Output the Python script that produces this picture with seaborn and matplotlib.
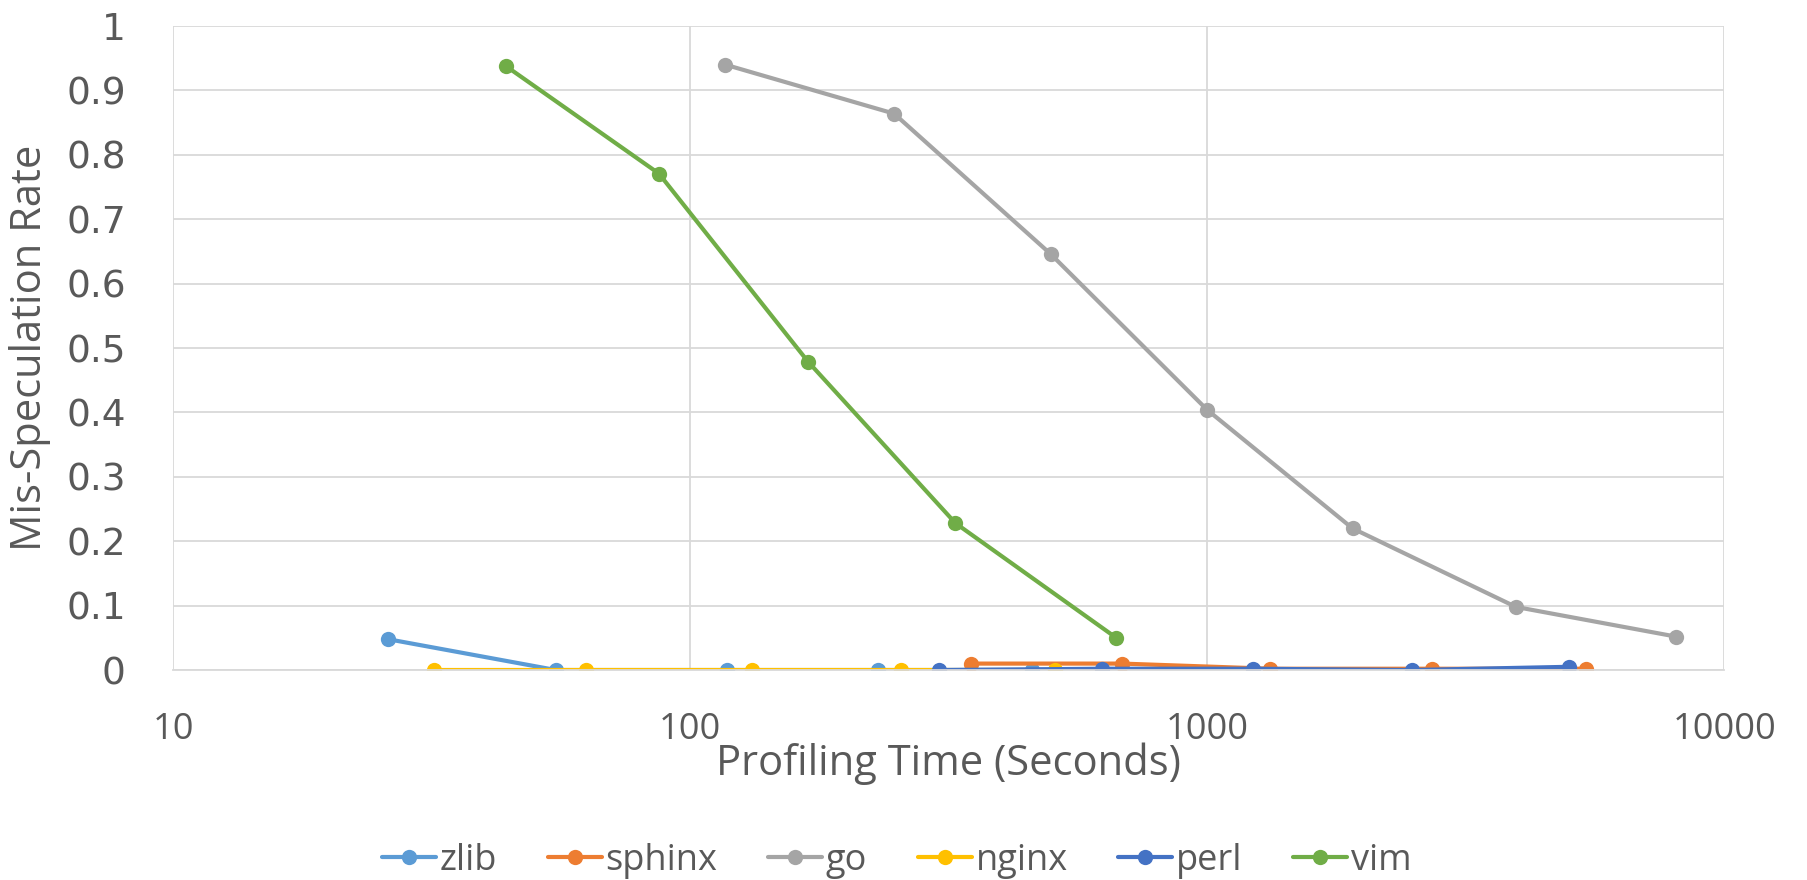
import matplotlib
matplotlib.use("Agg")
import matplotlib.pyplot as plt
import seaborn as sns
import pandas as pd
from matplotlib.lines import Line2D

# Benchmarks
BENCHMARKS = ["zlib", "sphinx", "go", "nginx", "perl", "vim"]

zlib_time = [26, 55, 118, 231, 458]
zlib_rate = [0.048, 0.0, 0.0, 0.0, 0.0]

sphinx_time = [349, 684, 1325, 2716, 5407]
sphinx_rate = [0.010, 0.010, 0.002, 0.002, 0.002]

go_time = [117, 248, 498, 1000, 1910, 3953, 8054]
go_rate = [0.940, 0.864, 0.646, 0.404, 0.220, 0.098, 0.052]

nginx_time = [32, 63, 132, 256, 508]
nginx_rate = [0.0, 0.0, 0.0, 0.0, 0.0]

perl_time = [303, 627, 1227, 2490, 5000]
perl_rate = [0.0, 0.002, 0.002, 0.0, 0.005]

vim_time = [44, 87, 169, 326, 667]
vim_rate = [0.938, 0.771, 0.479, 0.228, 0.050]

COLORS = {
    "zlib": "#5B9BD5",
    "sphinx": "#ED7D31",
    "go": "#A5A5A5",
    "nginx": "#FFC000",
    "perl": "#4472C4",
    "vim": "#70AD47",
}
TEXT = "#595959"

series = {
    "zlib": (zlib_time, zlib_rate),
    "sphinx": (sphinx_time, sphinx_rate),
    "go": (go_time, go_rate),
    "nginx": (nginx_time, nginx_rate),
    "perl": (perl_time, perl_rate),
    "vim": (vim_time, vim_rate),
}

rows = []
for name in BENCHMARKS:
    t, r = series[name]
    for x, y in zip(t, r):
        rows.append({"Benchmark": name, "Time": x, "Rate": y})
df = pd.DataFrame(rows)

sns.set_style("white")
plt.rcParams["font.family"] = ["Open Sans", "DejaVu Sans"]

fig = plt.figure(figsize=(18.08, 8.8), dpi=100)
ax = fig.add_axes([0.0957, 0.2386, 0.858, 0.7318])

sns.lineplot(
    data=df, x="Time", y="Rate", hue="Benchmark", hue_order=BENCHMARKS,
    palette=COLORS, marker="o", markersize=11, markeredgewidth=0,
    linewidth=3, estimator=None, sort=False, legend=False, ax=ax,
)

ax.set_xscale("log")
ax.set_xlim(10, 10000)
ax.set_ylim(0, 1)
ax.set_xticks([10, 100, 1000, 10000])
ax.set_xticklabels(["10", "100", "1000", "10000"])
ax.set_yticks([i / 10 for i in range(11)])
ax.set_yticklabels(["0"] + [f"0.{i}" for i in range(1, 10)] + ["1"],
                   fontfamily="DejaVu Sans", fontsize=27, color=TEXT)
ax.minorticks_off()
ax.tick_params(axis="x", labelsize=26, labelcolor=TEXT, length=0, pad=30)
ax.tick_params(axis="y", length=0, pad=34)

ax.grid(True, which="major", color="#D9D9D9", linewidth=1.3)
ax.set_axisbelow(True)
for side in ["top", "right", "left"]:
    ax.spines[side].set_visible(False)
ax.spines["bottom"].set_color("#D9D9D9")
ax.spines["bottom"].set_linewidth(1.3)

ax.set_xlabel("Profiling Time (Seconds)", fontsize=30, color=TEXT)
ax.set_ylabel("Mis-Speculation Rate", fontsize=30, color=TEXT)
ax.xaxis.set_label_coords(0.5, -0.146)
ax.xaxis.label.set_va("center")
ax.yaxis.set_label_coords(-0.092, 0.5)
ax.yaxis.label.set_va("center")

handles = [Line2D([0], [0], color=COLORS[n], marker="o", markersize=11,
                  markeredgewidth=0, linewidth=3) for n in BENCHMARKS]
fig.legend(handles, BENCHMARKS, loc="center", bbox_to_anchor=(0.496, 0.022),
           ncol=6, frameon=False, labelcolor=TEXT, fontsize=26,
           handlelength=1.5, handletextpad=0.1, columnspacing=1.4)

plt.savefig("out.png", dpi=100)
plt.close()
